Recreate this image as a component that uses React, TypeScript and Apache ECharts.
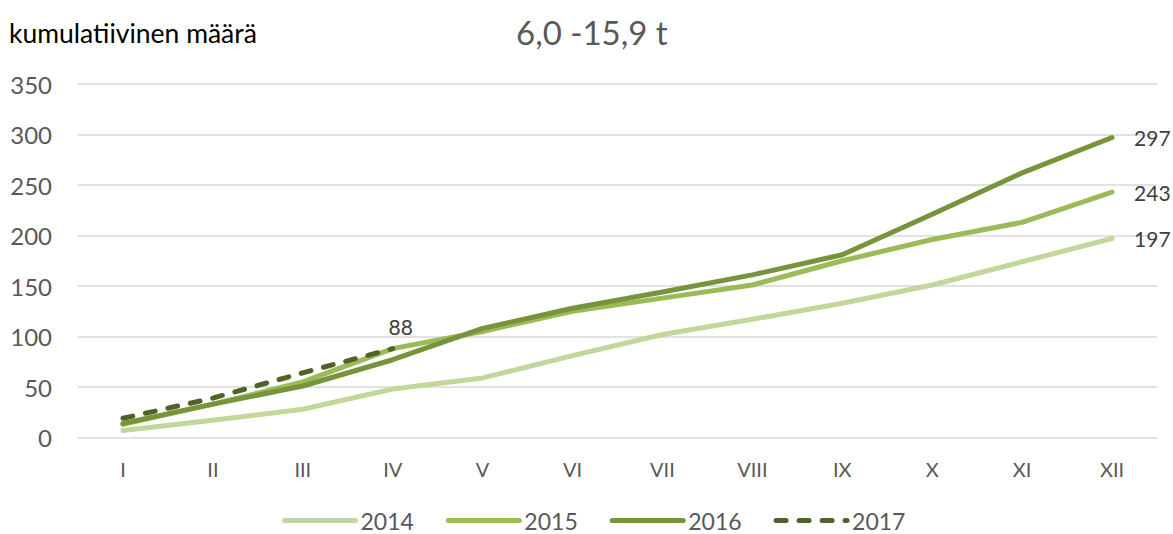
import React, { useEffect, useRef } from "react";
import * as echarts from "echarts";

const months = ["I", "II", "III", "IV", "V", "VI", "VII", "VIII", "IX", "X", "XI", "XII"];
const years = ["2014", "2015", "2016", "2017"];
const values2014 = [7, 17, 28, 48, 59, 81, 102, 117, 133, 151, 174, 197];
const values2015 = [13, 33, 55, 88, 105, 125, 138, 151, 175, 196, 213, 243];
const values2016 = [14, 33, 51, 77, 108, 128, 144, 161, 181, 221, 262, 297];
const values2017 = [19, 39, 64, 88];
const colors = ["#c3d69b", "#9bbb59", "#77933c", "#4f6228"];
const titleText = "6,0 -15,9 t";
const yAxisName = "kumulatiivinen määrä";

const FONT = "Lato, 'Noto Sans', sans-serif";

export default function App() {
  const ref = useRef<HTMLDivElement>(null);
  useEffect(() => {
    if (!ref.current) return;
    const chart = echarts.init(ref.current, null, { renderer: "svg" });
    const series = [values2014, values2015, values2016, values2017].map((vals, i) => ({
      name: years[i],
      type: "line",
      symbol: "none",
      data: vals,
      lineStyle: {
        color: colors[i],
        width: 5,
        cap: "round",
        join: "round",
        type: i === 3 ? [10, 13] : "solid",
      },
      itemStyle: { color: colors[i] },
      endLabel:
        i === 3
          ? {
              show: true,
              formatter: "{c}",
              fontSize: 21,
              color: "#404040",
              fontFamily: FONT,
              distance: 0,
              align: "center",
              verticalAlign: "middle",
              offset: [8, -22],
            }
          : {
              show: true,
              formatter: "{c}",
              fontSize: 21,
              color: "#404040",
              fontFamily: FONT,
              distance: 22,
            },
      z: 2 + (i === 3 ? 3 : i),
    }));
    chart.setOption({
      animation: false,
      backgroundColor: "#ffffff",
      textStyle: { fontFamily: FONT },
      title: {
        text: titleText,
        left: 511,
        top: 10,
        textStyle: { fontSize: 33, fontWeight: "normal", color: "#595959", fontFamily: FONT },
      },
      graphic: [
        {
          type: "text",
          left: 9,
          top: 19,
          style: { text: yAxisName, fontSize: 26.5, fill: "#000000", fontFamily: FONT },
        },
      ],
      legend: {
        left: 282,
        top: 509,
        padding: 0,
        itemWidth: 71,
        itemHeight: 24,
        itemGap: 32,
        icon: "inherit",
        data: years,
        itemStyle: { opacity: 0, color: "transparent", borderWidth: 0 },
        lineStyle: { width: 5, cap: "round" },
        textStyle: { fontSize: 23, color: "#595959", fontFamily: FONT },
      },
      grid: { left: 78, right: 16, top: 84, bottom: 96.5, containLabel: false },
      xAxis: {
        type: "category",
        data: months,
        boundaryGap: true,
        axisLine: { show: false },
        axisTick: { show: false },
        axisLabel: { fontSize: 20, color: "#595959", margin: 21, fontFamily: FONT },
        splitLine: { show: false },
      },
      yAxis: {
        type: "value",
        min: 0,
        max: 350,
        interval: 50,
        axisLine: { show: false },
        axisTick: { show: false },
        axisLabel: { fontSize: 24, color: "#595959", margin: 26, fontFamily: FONT },
        splitLine: { lineStyle: { color: "#d9d9d9", width: 1.5 } },
      },
      series,
    });
    return () => chart.dispose();
  }, []);
  return <div ref={ref} style={{ width: 1173, height: 534, position: "absolute", left: 0, top: 0 }} />;
}
